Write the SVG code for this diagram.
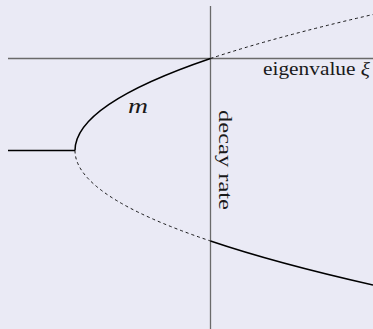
<svg xmlns="http://www.w3.org/2000/svg" width="373" height="329" viewBox="0 0 373 329">
<style>
.axis{stroke:#6a6a6a;stroke-width:1.3;fill:none}
.solid{stroke:#000;stroke-width:1.5;fill:none}
.dash{stroke:#000;stroke-width:0.9;fill:none;stroke-dasharray:3 3}
.lbl{font-family:"Liberation Serif","DejaVu Serif",serif;fill:#1a1a1a}
</style>
<rect width="373" height="329" fill="#eaeaf5"/>
<g id="axes">
<line class="axis" x1="8" y1="58.5" x2="373" y2="58.5"/>
<line class="axis" x1="210.5" y1="6" x2="210.5" y2="329"/>
</g>
<g id="connectors">
<line class="solid" x1="8" y1="150.5" x2="75" y2="150.5"/>
<path class="solid" d="M75,150.5 Q75,104.5 210.5,58.5"/>
<path class="dash" d="M210.5,58.5 Q275.6,36.9 373,14.5"/>
<path class="dash" d="M75,150.5 Q75,195.5 210.5,241"/>
<path class="solid" d="M210.5,241 Q275.6,263 373,285"/>
</g>
<g id="label-m"><text class="lbl" x="128" y="113" font-size="22" font-style="italic" textLength="20" lengthAdjust="spacingAndGlyphs">m</text></g>
<g id="label-eigenvalue"><text class="lbl" x="263" y="75" font-size="19" textLength="107" lengthAdjust="spacingAndGlyphs">eigenvalue <tspan font-style="italic">ξ</tspan></text></g>
<g id="label-decay"><text class="lbl" transform="translate(219,110) rotate(90)" font-size="19" textLength="100" lengthAdjust="spacingAndGlyphs">decay rate</text></g>
</svg>
